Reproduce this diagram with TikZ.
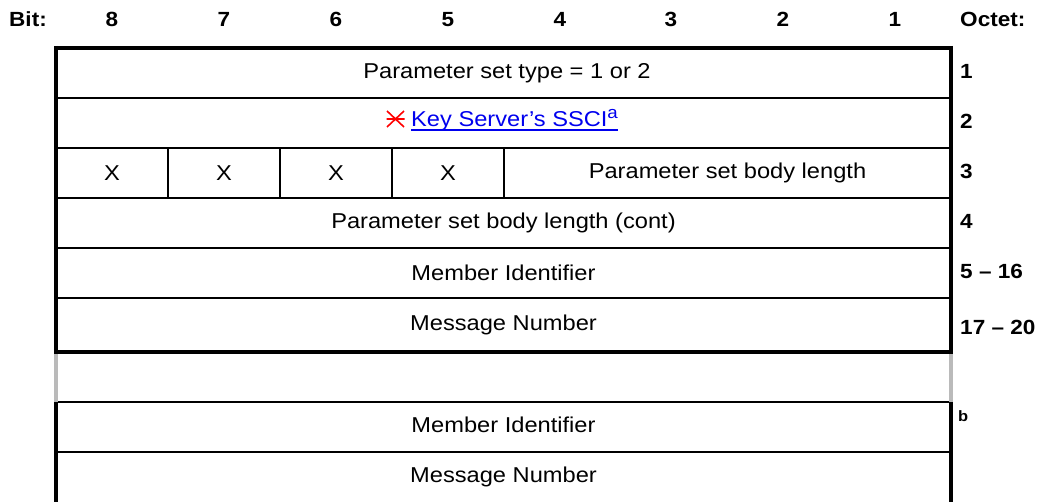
\documentclass[tikz,border=0pt]{standalone}
\usepackage{fontspec}
\setmainfont[FakeStretch=1.1]{Liberation Sans}
\begin{document}
\begin{tikzpicture}[x=1pt,y=-1pt,
  txt/.style={inner sep=0pt,font=\fontsize{21.5}{24}\selectfont},
  lbl/.style={inner sep=0pt,font=\fontsize{20.5}{22}\selectfont\bfseries},
  thin/.style={line width=1.5pt,black},
  border/.style={line width=4pt,black},
  gapborder/.style={line width=4pt,color=black!27}]
\useasboundingbox (0,0) rectangle (1040,502);
% header
\node[lbl,anchor=base west] (bit) at (9,27) {Bit:};
\foreach \n/\x in {8/112,7/224,6/336,5/448,4/560,3/671,2/783,1/895}
  \node[lbl,anchor=base] (b\n) at (\x,27) {\n};
\node[lbl,anchor=base west] (oct) at (960,27) {Octet:};
% horizontal lines
\foreach \y in {98,148,198,248,298,402,452}
  \draw[thin] (56,\y) -- (951,\y);
\draw[border] (54,352) -- (953,352);
\draw[border] (54,48) -- (953,48);
% column lines in row 3
\foreach \x in {168,280,392,504}
  \draw[thin] (\x,148) -- (\x,198);
% side borders
\draw[border] (56,46) -- (56,352);
\draw[border] (951,46) -- (951,352);
\draw[gapborder] (56,354) -- (56,402);
\draw[gapborder] (951,354) -- (951,402);
\draw[border] (56,402) -- (56,502);
\draw[border] (951,402) -- (951,502);
% row texts
\node[txt] (r1) at (507,73) {Parameter set type = 1 or 2};
\node[txt,text={rgb,255:red,0;green,0;blue,238},anchor=base west] (ks) at (411,127) {Key Server’s SSCI\raisebox{8.5pt}{\fontsize{17}{17}\selectfont a}};
\draw[line width=1.5pt,color={rgb,255:red,0;green,0;blue,238}] (ks.west |- 0,130) -- (ks.east |- 0,130);
\coordinate (xc) at (395.5,119);
\draw[red,line width=1.6pt] ([shift={(-8.5,-8)}]xc) -- ([shift={(8.5,8)}]xc)
  ([shift={(-8.5,8)}]xc) -- ([shift={(8.5,-8)}]xc)
  ([shift={(-9,0)}]xc) -- ([shift={(9,0)}]xc);
\foreach \x [count=\i] in {112,224,336,448}
  \node[txt] (x\i) at (\x,173) {X};
\node[txt] (r3) at (727.5,173) {Parameter set body length};
\node[txt] (r4) at (503.5,223) {Parameter set body length (cont)};
\node[txt] (r5) at (503.5,273) {Member Identifier};
\node[txt] (r6) at (503.5,325) {Message Number};
\node[txt] (r8) at (503.5,425) {Member Identifier};
\node[txt] (r9) at (503.5,477) {Message Number};
% octet labels
\node[lbl,anchor=west] (o1) at (960,71) {1};
\node[lbl,anchor=west] (o2) at (960,121) {2};
\node[lbl,anchor=west] (o3) at (960,171) {3};
\node[lbl,anchor=west] (o4) at (960,221) {4};
\node[lbl,anchor=west] (o5) at (960,271) {5 – 16};
\node[lbl,anchor=west] (o6) at (960,327) {17 – 20};
\node[inner sep=0pt,anchor=west,font=\fontsize{15}{16}\selectfont\bfseries] (ob) at (958,416) {b};
\end{tikzpicture}
\end{document}
